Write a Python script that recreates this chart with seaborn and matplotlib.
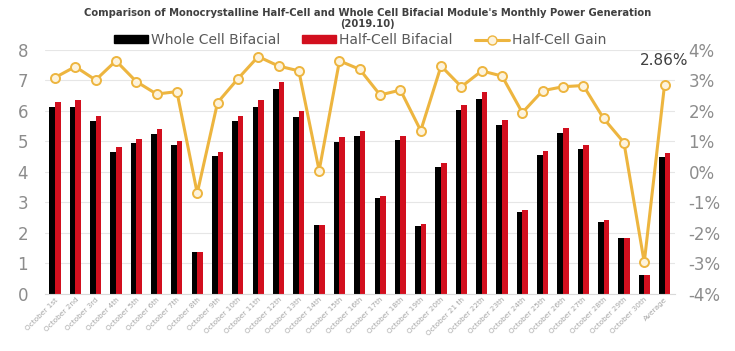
"""
October 2019 daily generation: whole-cell vs half-cell bifacial modules,
with the half-cell gain (%) on a secondary axis.
"""
import numpy as np
import pandas as pd
import seaborn as sns
import matplotlib.pyplot as plt
from matplotlib.lines import Line2D
from matplotlib.patches import Patch

sns.set_style('white')
plt.rcParams['font.family'] = ['DejaVu Sans']

# data
days = ['October 1st', 'October 2nd', 'October 3rd'] + \
       ['October %dth' % d for d in range(4, 21)] + \
       ['October 21 th', 'October 22th', 'October 23th', 'October 24th',
        'October 25th', 'October 26th', 'October 27th', 'October 28th',
        'October 29th', 'October 30th', 'Average']
whole_cell = [6.13, 6.13, 5.66, 4.64, 4.95, 5.25, 4.87, 1.38, 4.53, 5.68,
              6.13, 6.72, 5.79, 2.24, 4.98, 5.18, 3.13, 5.04, 2.22, 4.15,
              6.04, 6.38, 5.54, 2.69, 4.55, 5.28, 4.75, 2.36, 1.82, 0.62,
              4.50]
half_cell = [6.29, 6.35, 5.84, 4.81, 5.09, 5.39, 5.01, 1.38, 4.64, 5.84,
             6.37, 6.94, 6.00, 2.24, 5.14, 5.34, 3.22, 5.16, 2.28, 4.28,
             6.20, 6.61, 5.70, 2.75, 4.67, 5.45, 4.89, 2.41, 1.82, 0.60,
             4.61]
gain = [3.09, 3.45, 3.01, 3.64, 2.96, 2.55, 2.63, -0.70, 2.27, 3.05,
        3.78, 3.47, 3.31, 0.04, 3.64, 3.36, 2.52, 2.68, 1.35, 3.47,
        2.79, 3.31, 3.14, 1.94, 2.66, 2.79, 2.83, 1.75, 0.96, -2.97,
        2.86]

series_names = ['Whole Cell Bifacial', 'Half-Cell Bifacial']
bar_colors = ['#000000', '#D20F1E']
line_color = '#EDB53F'
marker_face = '#FDF3DC'
grey = '#8C8C8C'

df_bar = pd.DataFrame({'day': days * 2,
                       'kwh': whole_cell + half_cell,
                       'type': [series_names[0]] * len(days) + [series_names[1]] * len(days)})
df_gain = pd.DataFrame({'pos': np.arange(len(days)), 'gain': gain})

fig = plt.figure(figsize=(7.35, 3.51), dpi=100)
ax = fig.add_axes([0.061, 0.163, 0.857, 0.695])

# 1. bars
sns.barplot(data=df_bar, x='day', y='kwh', hue='type', palette=bar_colors,
            width=0.55, gap=0, ax=ax, legend=False, saturation=1, linewidth=0)
ax.set_xlim(-0.5, len(days) - 0.5)
ax.set_ylim(0, 8)
ax.set_yticks(range(0, 9))
ax.yaxis.grid(True, color='#E6E6E6', linewidth=0.8)
ax.set_axisbelow(True)
ax.set_xlabel('')
ax.set_ylabel('')
ax.tick_params(axis='y', labelsize=12, colors=grey, length=0, pad=12)
ax.tick_params(axis='x', length=0, pad=2)
for lab in ax.get_xticklabels():
    lab.set_rotation(45)
    lab.set_ha('right')
    lab.set_rotation_mode('anchor')
    lab.set_fontsize(5.3)
    lab.set_color('#A6A6A6')
for s in ['top', 'left', 'right']:
    ax.spines[s].set_visible(False)
ax.spines['bottom'].set_color('#D9D9D9')

# 2. gain line on the right axis
ax2 = ax.twinx()
sns.lineplot(data=df_gain, x='pos', y='gain', ax=ax2, color=line_color,
             linewidth=2.2, marker='o', markersize=6.5,
             markerfacecolor=marker_face, markeredgecolor=line_color,
             markeredgewidth=1.4)
ax2.set_ylim(-4, 4)
ax2.set_yticks(range(-4, 5))
ax2.set_yticklabels(['%d%%' % v for v in range(-4, 5)])
ax2.tick_params(axis='y', labelsize=12, colors=grey, length=0, pad=10)
ax2.set_xlabel('')
ax2.set_ylabel('')
for s in ax2.spines.values():
    s.set_visible(False)
ax2.annotate('%.2f%%' % gain[-1], (len(days) - 1, gain[-1]), xytext=(0, 12),
             textcoords='offset points', ha='center', va='bottom',
             fontsize=11, color='#404040')

# 3. title & legend
fig.text(0.5, 0.948, "Comparison of Monocrystalline Half-Cell and Whole Cell Bifacial "
         "Module's Monthly Power Generation\n(2019.10)",
         ha='center', va='center', fontsize=7.2, fontweight='semibold',
         color='#404040', linespacing=1.1)
handles = [Patch(color=bar_colors[0]), Patch(color=bar_colors[1]),
           Line2D([], [], color=line_color, linewidth=2.2, marker='o', markersize=6.5,
                  markerfacecolor=marker_face, markeredgecolor=line_color)]
fig.legend(handles, series_names + ['Half-Cell Gain'], loc='center',
           bbox_to_anchor=(0.49, 0.885), ncol=3, frameon=False, fontsize=10,
           labelcolor='#595959', handlelength=2.45, handleheight=0.5,
           columnspacing=1.6, handletextpad=0.2)

plt.savefig('out.png', dpi=100)
